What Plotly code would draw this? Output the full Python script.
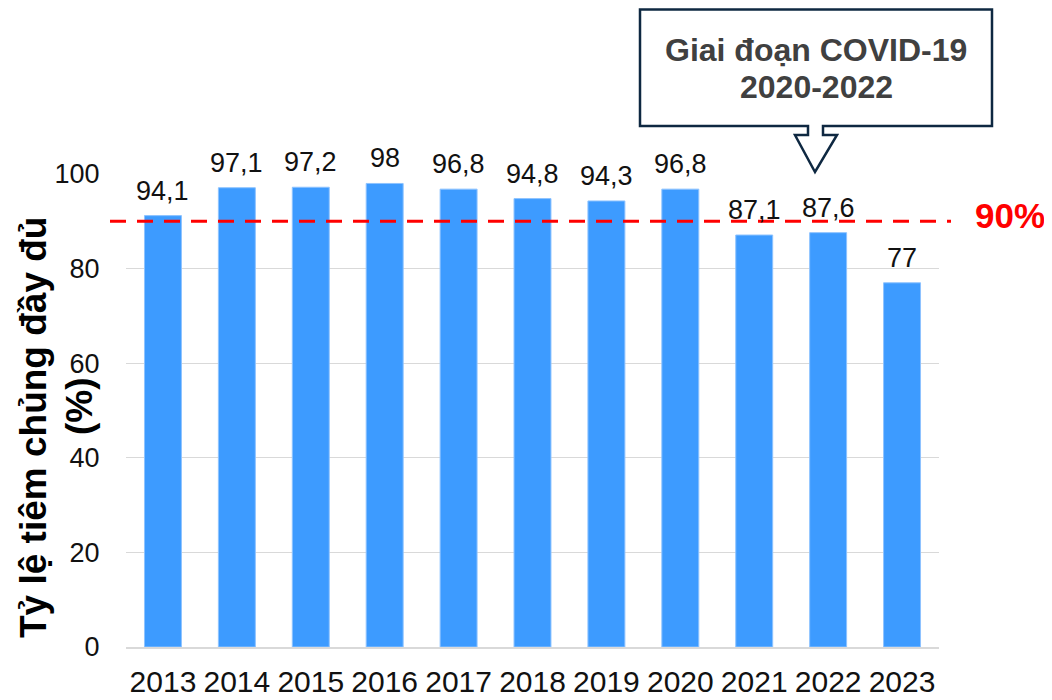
import plotly.graph_objects as go

years = ["2013", "2014", "2015", "2016", "2017", "2018", "2019", "2020", "2021", "2022", "2023"]
bar_heights = [91.2, 97.1, 97.2, 98.0, 96.8, 94.8, 94.3, 96.8, 87.1, 87.6, 77.0]
bar_labels = ["94,1", "97,1", "97,2", "98", "96,8", "94,8", "94,3", "96,8", "87,1", "87,6", "77"]
target = 90
y_ticks = [0, 20, 40, 60, 80, 100]

# page has an 8px body margin; figure is shrunk so the drawing lands where the reference has it
OFF = 8
W, H = 1052 - OFF, 700 - OFF
L, R, T, B = 126, 939, 174, 647  # plot area in page pixels


def px(x):
    return (x - L) / (R - L)


def py(y):
    return (B - y) / (B - T)


FONT = "Liberation Sans, Arial"

fig = go.Figure()
fig.add_trace(go.Bar(
    x=years, y=bar_heights,
    marker=dict(color="#3D9BFF", line=dict(color="#8EC3FF", width=1)),
    hoverinfo="skip",
))

for i, (v, lab) in enumerate(zip(bar_heights, bar_labels)):
    fig.add_annotation(x=i, y=v, text=lab, showarrow=False, xanchor="center", yanchor="bottom",
                       yshift=8, font=dict(family=FONT, size=27, color="#111111"))

# target line
fig.add_shape(type="line", xref="paper", yref="y", x0=px(110), x1=px(951), y0=target, y1=target,
              line=dict(color="#FF0000", width=3, dash="16px,11px"))
fig.add_annotation(xref="paper", yref="y", x=px(1010), y=target, yshift=6, text="<b>90%</b>",
                   xanchor="center", yanchor="middle",
                   showarrow=False, font=dict(family=FONT, size=35, color="#FF0000"))

# callout
pts = [(640, 9.5), (992, 9.5), (992, 126), (823, 126), (823, 135), (837, 135), (815, 172),
       (795, 135), (808, 135), (808, 126), (640, 126)]
path = "M " + " L ".join(f"{px(a):.5f},{py(b):.5f}" for a, b in pts) + " Z"
fig.add_shape(type="path", xref="paper", yref="paper", path=path,
              fillcolor="white", line=dict(color="#0E2841", width=2.5), layer="above")
for txt, yy in [("<b>Giai đoạn COVID-19</b>", 50), ("<b>2020-2022</b>", 87)]:
    fig.add_annotation(xref="paper", yref="paper", x=px(816), y=py(yy), xanchor="center", yanchor="middle",
                       text=txt, showarrow=False, font=dict(family=FONT, size=32, color="#404040"))

# y-axis title (two lines)
fig.add_annotation(xref="paper", yref="paper", x=px(33), y=py(428), textangle=-90,
                   xanchor="center", yanchor="middle",
                   text="<b>Tỷ lệ tiêm chủng đầy đủ</b>", showarrow=False,
                   font=dict(family=FONT, size=37, color="#000000"))
fig.add_annotation(xref="paper", yref="paper", x=px(79), y=py(406), textangle=-90,
                   xanchor="center", yanchor="middle",
                   text="<b>(%)</b>", showarrow=False,
                   font=dict(family=FONT, size=37, color="#000000"))

fig.update_layout(
    width=W, height=H,
    margin=dict(l=L - OFF, r=W - (R - OFF), t=T - OFF, b=H - (B - OFF)),
    plot_bgcolor="white", paper_bgcolor="white",
    bargap=0.5, showlegend=False,
    font=dict(family=FONT, color="#111111"),
)
fig.update_xaxes(type="category", range=[-0.5, len(years) - 0.5], showgrid=False, showline=True,
                 linecolor="#D9D9D9", linewidth=2, automargin=False,
                 ticks="outside", ticklen=7, tickcolor="rgba(0,0,0,0)",
                 tickfont=dict(size=30, color="#111111"))
fig.update_yaxes(range=[0, 100], tickvals=y_ticks, showgrid=True, gridcolor="#D9D9D9", gridwidth=1,
                 zeroline=False, showline=False, ticks="outside", ticklen=20, automargin=False,
                 tickcolor="rgba(0,0,0,0)",
                 tickfont=dict(size=27, color="#111111"))

fig.write_html("out.html")
